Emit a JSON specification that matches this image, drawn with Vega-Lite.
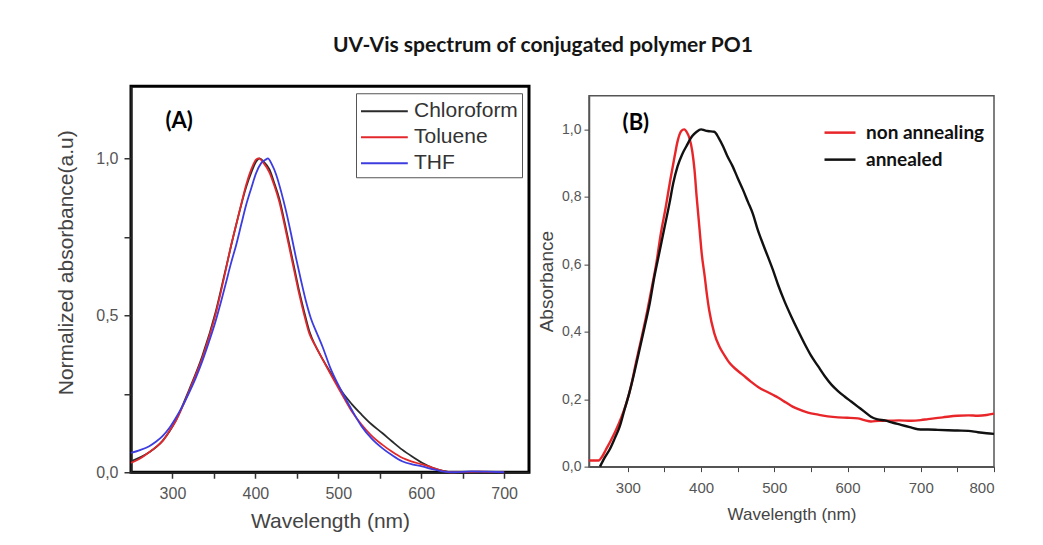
{
  "$schema": "https://vega.github.io/schema/vega-lite/v6.json",
  "background": "white",
  "padding": {"left": 54, "top": 34, "right": 30, "bottom": 10},
  "title": {"text": "UV-Vis spectrum of conjugated polymer PO1", "font": "Lato", "fontSize": 21, "fontWeight": "bold", "color": "#151515", "anchor": "middle", "offset": 29, "dx": 16},
  "spacing": 5,
  "center": true,
  "config": {
    "axis": {"grid": false, "labelFont": "Liberation Sans", "titleFont": "Liberation Sans", "titleFontWeight": "normal"},
    "legend": {"labelFont": "Liberation Sans"}
  },
  "datasets": {
    "A": [
      {"s": "Chloroform", "wl": 250, "v": 0.035}, {"s": "Chloroform", "wl": 271, "v": 0.062}, {"s": "Chloroform", "wl": 288, "v": 0.1}, {"s": "Chloroform", "wl": 304, "v": 0.165}, {"s": "Chloroform", "wl": 320, "v": 0.262}, {"s": "Chloroform", "wl": 336, "v": 0.37}, {"s": "Chloroform", "wl": 352, "v": 0.51}, {"s": "Chloroform", "wl": 364, "v": 0.645}, {"s": "Chloroform", "wl": 377, "v": 0.79}, {"s": "Chloroform", "wl": 389, "v": 0.91}, {"s": "Chloroform", "wl": 395, "v": 0.955}, {"s": "Chloroform", "wl": 401, "v": 0.99}, {"s": "Chloroform", "wl": 405, "v": 1.0}, {"s": "Chloroform", "wl": 410, "v": 0.99}, {"s": "Chloroform", "wl": 417, "v": 0.965}, {"s": "Chloroform", "wl": 423, "v": 0.92}, {"s": "Chloroform", "wl": 429, "v": 0.87}, {"s": "Chloroform", "wl": 435, "v": 0.8}, {"s": "Chloroform", "wl": 441, "v": 0.725}, {"s": "Chloroform", "wl": 447, "v": 0.65}, {"s": "Chloroform", "wl": 453, "v": 0.575}, {"s": "Chloroform", "wl": 459, "v": 0.51}, {"s": "Chloroform", "wl": 465, "v": 0.45}, {"s": "Chloroform", "wl": 472, "v": 0.405}, {"s": "Chloroform", "wl": 478, "v": 0.375}, {"s": "Chloroform", "wl": 490, "v": 0.32}, {"s": "Chloroform", "wl": 504, "v": 0.258}, {"s": "Chloroform", "wl": 516, "v": 0.218}, {"s": "Chloroform", "wl": 528, "v": 0.184}, {"s": "Chloroform", "wl": 540, "v": 0.153}, {"s": "Chloroform", "wl": 553, "v": 0.125}, {"s": "Chloroform", "wl": 565, "v": 0.098}, {"s": "Chloroform", "wl": 577, "v": 0.072}, {"s": "Chloroform", "wl": 589, "v": 0.05}, {"s": "Chloroform", "wl": 601, "v": 0.03}, {"s": "Chloroform", "wl": 613, "v": 0.015}, {"s": "Chloroform", "wl": 625, "v": 0.005}, {"s": "Chloroform", "wl": 640, "v": 0.0}, {"s": "Chloroform", "wl": 700, "v": 0.0},
      {"s": "Toluene", "wl": 250, "v": 0.03}, {"s": "Toluene", "wl": 260, "v": 0.042}, {"s": "Toluene", "wl": 271, "v": 0.062}, {"s": "Toluene", "wl": 280, "v": 0.08}, {"s": "Toluene", "wl": 288, "v": 0.099}, {"s": "Toluene", "wl": 296, "v": 0.13}, {"s": "Toluene", "wl": 304, "v": 0.163}, {"s": "Toluene", "wl": 312, "v": 0.208}, {"s": "Toluene", "wl": 320, "v": 0.258}, {"s": "Toluene", "wl": 328, "v": 0.31}, {"s": "Toluene", "wl": 336, "v": 0.364}, {"s": "Toluene", "wl": 344, "v": 0.43}, {"s": "Toluene", "wl": 352, "v": 0.503}, {"s": "Toluene", "wl": 358, "v": 0.57}, {"s": "Toluene", "wl": 364, "v": 0.641}, {"s": "Toluene", "wl": 370, "v": 0.715}, {"s": "Toluene", "wl": 377, "v": 0.79}, {"s": "Toluene", "wl": 383, "v": 0.855}, {"s": "Toluene", "wl": 389, "v": 0.917}, {"s": "Toluene", "wl": 395, "v": 0.965}, {"s": "Toluene", "wl": 401, "v": 0.997}, {"s": "Toluene", "wl": 404, "v": 1.0}, {"s": "Toluene", "wl": 410, "v": 0.985}, {"s": "Toluene", "wl": 417, "v": 0.955}, {"s": "Toluene", "wl": 423, "v": 0.912}, {"s": "Toluene", "wl": 429, "v": 0.86}, {"s": "Toluene", "wl": 435, "v": 0.79}, {"s": "Toluene", "wl": 441, "v": 0.715}, {"s": "Toluene", "wl": 447, "v": 0.64}, {"s": "Toluene", "wl": 453, "v": 0.566}, {"s": "Toluene", "wl": 459, "v": 0.5}, {"s": "Toluene", "wl": 465, "v": 0.442}, {"s": "Toluene", "wl": 472, "v": 0.405}, {"s": "Toluene", "wl": 478, "v": 0.375}, {"s": "Toluene", "wl": 490, "v": 0.316}, {"s": "Toluene", "wl": 504, "v": 0.25}, {"s": "Toluene", "wl": 516, "v": 0.195}, {"s": "Toluene", "wl": 528, "v": 0.152}, {"s": "Toluene", "wl": 540, "v": 0.117}, {"s": "Toluene", "wl": 553, "v": 0.088}, {"s": "Toluene", "wl": 565, "v": 0.065}, {"s": "Toluene", "wl": 577, "v": 0.046}, {"s": "Toluene", "wl": 589, "v": 0.034}, {"s": "Toluene", "wl": 601, "v": 0.025}, {"s": "Toluene", "wl": 613, "v": 0.015}, {"s": "Toluene", "wl": 625, "v": 0.005}, {"s": "Toluene", "wl": 635, "v": 0.0}, {"s": "Toluene", "wl": 670, "v": 0.002}, {"s": "Toluene", "wl": 700, "v": 0.0},
      {"s": "THF", "wl": 250, "v": 0.062}, {"s": "THF", "wl": 260, "v": 0.07}, {"s": "THF", "wl": 272, "v": 0.083}, {"s": "THF", "wl": 280, "v": 0.097}, {"s": "THF", "wl": 288, "v": 0.115}, {"s": "THF", "wl": 296, "v": 0.14}, {"s": "THF", "wl": 304, "v": 0.173}, {"s": "THF", "wl": 312, "v": 0.21}, {"s": "THF", "wl": 320, "v": 0.253}, {"s": "THF", "wl": 328, "v": 0.3}, {"s": "THF", "wl": 336, "v": 0.354}, {"s": "THF", "wl": 344, "v": 0.415}, {"s": "THF", "wl": 352, "v": 0.481}, {"s": "THF", "wl": 358, "v": 0.538}, {"s": "THF", "wl": 364, "v": 0.598}, {"s": "THF", "wl": 370, "v": 0.66}, {"s": "THF", "wl": 377, "v": 0.726}, {"s": "THF", "wl": 383, "v": 0.79}, {"s": "THF", "wl": 389, "v": 0.853}, {"s": "THF", "wl": 395, "v": 0.905}, {"s": "THF", "wl": 401, "v": 0.954}, {"s": "THF", "wl": 407, "v": 0.985}, {"s": "THF", "wl": 413, "v": 0.997}, {"s": "THF", "wl": 415, "v": 1.0}, {"s": "THF", "wl": 420, "v": 0.98}, {"s": "THF", "wl": 425, "v": 0.949}, {"s": "THF", "wl": 431, "v": 0.895}, {"s": "THF", "wl": 437, "v": 0.832}, {"s": "THF", "wl": 443, "v": 0.76}, {"s": "THF", "wl": 449, "v": 0.683}, {"s": "THF", "wl": 455, "v": 0.612}, {"s": "THF", "wl": 461, "v": 0.545}, {"s": "THF", "wl": 467, "v": 0.49}, {"s": "THF", "wl": 474, "v": 0.444}, {"s": "THF", "wl": 481, "v": 0.4}, {"s": "THF", "wl": 490, "v": 0.335}, {"s": "THF", "wl": 504, "v": 0.258}, {"s": "THF", "wl": 516, "v": 0.2}, {"s": "THF", "wl": 528, "v": 0.147}, {"s": "THF", "wl": 540, "v": 0.108}, {"s": "THF", "wl": 553, "v": 0.077}, {"s": "THF", "wl": 565, "v": 0.054}, {"s": "THF", "wl": 577, "v": 0.035}, {"s": "THF", "wl": 589, "v": 0.025}, {"s": "THF", "wl": 601, "v": 0.019}, {"s": "THF", "wl": 613, "v": 0.01}, {"s": "THF", "wl": 625, "v": 0.003}, {"s": "THF", "wl": 640, "v": 0.0}, {"s": "THF", "wl": 660, "v": 0.003}, {"s": "THF", "wl": 680, "v": 0.002}, {"s": "THF", "wl": 700, "v": 0.0}
    ],
    "B": [
      {"s": "non annealing", "wl": 247, "v": 0.018}, {"s": "non annealing", "wl": 260, "v": 0.018}, {"s": "non annealing", "wl": 265, "v": 0.03}, {"s": "non annealing", "wl": 270, "v": 0.05}, {"s": "non annealing", "wl": 277, "v": 0.078}, {"s": "non annealing", "wl": 284, "v": 0.109}, {"s": "non annealing", "wl": 291, "v": 0.145}, {"s": "non annealing", "wl": 298, "v": 0.188}, {"s": "non annealing", "wl": 305, "v": 0.245}, {"s": "non annealing", "wl": 311, "v": 0.307}, {"s": "non annealing", "wl": 318, "v": 0.375}, {"s": "non annealing", "wl": 325, "v": 0.445}, {"s": "non annealing", "wl": 332, "v": 0.523}, {"s": "non annealing", "wl": 339, "v": 0.604}, {"s": "non annealing", "wl": 345, "v": 0.69}, {"s": "non annealing", "wl": 352, "v": 0.772}, {"s": "non annealing", "wl": 358, "v": 0.85}, {"s": "non annealing", "wl": 364, "v": 0.921}, {"s": "non annealing", "wl": 368, "v": 0.965}, {"s": "non annealing", "wl": 373, "v": 0.995}, {"s": "non annealing", "wl": 377, "v": 1.0}, {"s": "non annealing", "wl": 381, "v": 0.99}, {"s": "non annealing", "wl": 384, "v": 0.975}, {"s": "non annealing", "wl": 388, "v": 0.935}, {"s": "non annealing", "wl": 391, "v": 0.881}, {"s": "non annealing", "wl": 394, "v": 0.8}, {"s": "non annealing", "wl": 398, "v": 0.703}, {"s": "non annealing", "wl": 401, "v": 0.63}, {"s": "non annealing", "wl": 405, "v": 0.564}, {"s": "non annealing", "wl": 408, "v": 0.51}, {"s": "non annealing", "wl": 411, "v": 0.465}, {"s": "non annealing", "wl": 418, "v": 0.396}, {"s": "non annealing", "wl": 425, "v": 0.356}, {"s": "non annealing", "wl": 432, "v": 0.33}, {"s": "non annealing", "wl": 439, "v": 0.307}, {"s": "non annealing", "wl": 448, "v": 0.288}, {"s": "non annealing", "wl": 457, "v": 0.272}, {"s": "non annealing", "wl": 468, "v": 0.252}, {"s": "non annealing", "wl": 480, "v": 0.233}, {"s": "non annealing", "wl": 490, "v": 0.222}, {"s": "non annealing", "wl": 498, "v": 0.213}, {"s": "non annealing", "wl": 505, "v": 0.205}, {"s": "non annealing", "wl": 516, "v": 0.19}, {"s": "non annealing", "wl": 525, "v": 0.178}, {"s": "non annealing", "wl": 532, "v": 0.171}, {"s": "non annealing", "wl": 546, "v": 0.16}, {"s": "non annealing", "wl": 560, "v": 0.154}, {"s": "non annealing", "wl": 573, "v": 0.149}, {"s": "non annealing", "wl": 587, "v": 0.146}, {"s": "non annealing", "wl": 600, "v": 0.145}, {"s": "non annealing", "wl": 614, "v": 0.143}, {"s": "non annealing", "wl": 623, "v": 0.138}, {"s": "non annealing", "wl": 632, "v": 0.134}, {"s": "non annealing", "wl": 643, "v": 0.136}, {"s": "non annealing", "wl": 655, "v": 0.136}, {"s": "non annealing", "wl": 670, "v": 0.137}, {"s": "non annealing", "wl": 687, "v": 0.136}, {"s": "non annealing", "wl": 700, "v": 0.138}, {"s": "non annealing", "wl": 710, "v": 0.141}, {"s": "non annealing", "wl": 730, "v": 0.146}, {"s": "non annealing", "wl": 750, "v": 0.151}, {"s": "non annealing", "wl": 765, "v": 0.152}, {"s": "non annealing", "wl": 778, "v": 0.151}, {"s": "non annealing", "wl": 790, "v": 0.153}, {"s": "non annealing", "wl": 800, "v": 0.157},
      {"s": "annealed", "wl": 262, "v": 0.0}, {"s": "annealed", "wl": 268, "v": 0.025}, {"s": "annealed", "wl": 275, "v": 0.05}, {"s": "annealed", "wl": 282, "v": 0.083}, {"s": "annealed", "wl": 289, "v": 0.119}, {"s": "annealed", "wl": 295, "v": 0.165}, {"s": "annealed", "wl": 302, "v": 0.218}, {"s": "annealed", "wl": 309, "v": 0.28}, {"s": "annealed", "wl": 316, "v": 0.347}, {"s": "annealed", "wl": 323, "v": 0.415}, {"s": "annealed", "wl": 330, "v": 0.485}, {"s": "annealed", "wl": 336, "v": 0.56}, {"s": "annealed", "wl": 343, "v": 0.634}, {"s": "annealed", "wl": 350, "v": 0.708}, {"s": "annealed", "wl": 357, "v": 0.782}, {"s": "annealed", "wl": 362, "v": 0.84}, {"s": "annealed", "wl": 368, "v": 0.891}, {"s": "annealed", "wl": 374, "v": 0.925}, {"s": "annealed", "wl": 380, "v": 0.95}, {"s": "annealed", "wl": 388, "v": 0.98}, {"s": "annealed", "wl": 394, "v": 0.993}, {"s": "annealed", "wl": 400, "v": 1.0}, {"s": "annealed", "wl": 405, "v": 0.997}, {"s": "annealed", "wl": 409, "v": 0.995}, {"s": "annealed", "wl": 418, "v": 0.993}, {"s": "annealed", "wl": 424, "v": 0.975}, {"s": "annealed", "wl": 430, "v": 0.95}, {"s": "annealed", "wl": 436, "v": 0.92}, {"s": "annealed", "wl": 443, "v": 0.891}, {"s": "annealed", "wl": 450, "v": 0.856}, {"s": "annealed", "wl": 457, "v": 0.822}, {"s": "annealed", "wl": 464, "v": 0.785}, {"s": "annealed", "wl": 471, "v": 0.748}, {"s": "annealed", "wl": 477, "v": 0.705}, {"s": "annealed", "wl": 484, "v": 0.663}, {"s": "annealed", "wl": 491, "v": 0.624}, {"s": "annealed", "wl": 498, "v": 0.584}, {"s": "annealed", "wl": 505, "v": 0.54}, {"s": "annealed", "wl": 514, "v": 0.49}, {"s": "annealed", "wl": 523, "v": 0.446}, {"s": "annealed", "wl": 532, "v": 0.405}, {"s": "annealed", "wl": 541, "v": 0.366}, {"s": "annealed", "wl": 550, "v": 0.33}, {"s": "annealed", "wl": 560, "v": 0.297}, {"s": "annealed", "wl": 569, "v": 0.268}, {"s": "annealed", "wl": 578, "v": 0.243}, {"s": "annealed", "wl": 587, "v": 0.224}, {"s": "annealed", "wl": 596, "v": 0.208}, {"s": "annealed", "wl": 605, "v": 0.193}, {"s": "annealed", "wl": 614, "v": 0.178}, {"s": "annealed", "wl": 623, "v": 0.163}, {"s": "annealed", "wl": 632, "v": 0.148}, {"s": "annealed", "wl": 641, "v": 0.14}, {"s": "annealed", "wl": 651, "v": 0.137}, {"s": "annealed", "wl": 662, "v": 0.13}, {"s": "annealed", "wl": 673, "v": 0.124}, {"s": "annealed", "wl": 685, "v": 0.117}, {"s": "annealed", "wl": 696, "v": 0.111}, {"s": "annealed", "wl": 710, "v": 0.11}, {"s": "annealed", "wl": 723, "v": 0.109}, {"s": "annealed", "wl": 737, "v": 0.108}, {"s": "annealed", "wl": 750, "v": 0.107}, {"s": "annealed", "wl": 765, "v": 0.106}, {"s": "annealed", "wl": 778, "v": 0.102}, {"s": "annealed", "wl": 790, "v": 0.099}, {"s": "annealed", "wl": 800, "v": 0.097}
    ]
  },
  "hconcat": [
    {
      "width": 398,
      "height": 386,
      "view": {"stroke": "#000000", "strokeWidth": 3},
      "layer": [
        {
          "data": {"name": "A"},
          "mark": {"type": "line", "strokeWidth": 1.8, "interpolate": "monotone"},
          "encoding": {
            "x": {"field": "wl", "type": "quantitative", "scale": {"domain": [250, 730], "nice": false, "zero": false},
              "axis": {"values": [300, 350, 400, 450, 500, 550, 600, 650, 700], "labelExpr": "datum.value % 100 == 0 ? datum.label : ''", "format": "d", "title": "Wavelength (nm)", "titleFontSize": 21, "titleColor": "#444444", "labelFontSize": 16, "labelColor": "#555555", "tickSize": 6, "tickColor": "#333333", "tickWidth": 1.5, "domainColor": "#222222", "domainWidth": 2, "labelPadding": 7, "titlePadding": 9}},
            "y": {"field": "v", "type": "quantitative", "scale": {"domain": [0, 1.23], "nice": false},
              "axis": {"values": [0, 0.25, 0.5, 0.75, 1], "labelExpr": "datum.value == 0 || datum.value == 0.5 || datum.value == 1 ? replace(format(datum.value, '.1f'), '.', ',') : ''", "title": "Normalized absorbance(a.u)", "titleFontSize": 21, "titleColor": "#444444", "titleY": 176, "labelFontSize": 16, "labelColor": "#555555", "tickSize": 7, "tickColor": "#333333", "tickWidth": 1.5, "domainColor": "#222222", "domainWidth": 2, "labelPadding": 6, "titlePadding": 19}},
            "color": {"field": "s", "type": "nominal", "scale": {"domain": ["Chloroform", "Toluene", "THF"], "range": ["#2a2a2a", "#e3282c", "#3c3ce0"]},
              "legend": {"orient": "top-right", "offset": 7, "title": null, "symbolType": "M-1,0H2.6", "symbolSize": 676, "symbolStrokeWidth": 1.8, "labelFontSize": 21, "labelColor": "#333333", "strokeColor": "#555555", "fillColor": "#ffffff", "padding": 4, "rowPadding": 2, "labelOffset": 26}}
          }
        },
        {
          "data": {"values": [{}]},
          "mark": {"type": "text", "text": "(A)", "font": "Lato", "fontSize": 22, "fontWeight": "bold", "color": "#000000", "align": "center", "baseline": "middle"},
          "encoding": {"x": {"datum": 308}, "y": {"datum": 1.118}}
        }
      ]
    },
    {
      "width": 405,
      "height": 371,
      "view": {"stroke": "#555555", "strokeWidth": 1.5},
      "layer": [
        {
          "data": {"name": "B"},
          "mark": {"type": "line", "strokeWidth": 2.4, "interpolate": "monotone"},
          "encoding": {
            "x": {"field": "wl", "type": "quantitative", "scale": {"domain": [247, 800], "nice": false, "zero": false},
              "axis": {"values": [300, 350, 400, 450, 500, 550, 600, 650, 700, 750, 800], "labelExpr": "datum.value % 100 == 0 ? datum.label : ''", "format": "d", "title": "Wavelength (nm)", "titleFontSize": 17, "titleColor": "#444444", "labelFontSize": 15, "labelColor": "#555555", "tickSize": 5, "tickColor": "#444444", "domainColor": "#555555", "domainWidth": 1.5, "labelPadding": 9, "titlePadding": 11}},
            "y": {"field": "v", "type": "quantitative", "scale": {"domain": [0, 1.1], "nice": false},
              "axis": {"values": [0, 0.1, 0.2, 0.3, 0.4, 0.5, 0.6, 0.7, 0.8, 0.9, 1.0], "labelExpr": "round(datum.value * 10) % 2 == 0 ? replace(format(datum.value, '.1f'), '.', ',') : ''", "title": "Absorbance", "titleFontSize": 19, "titleColor": "#444444", "labelFontSize": 14, "labelColor": "#555555", "tickSize": 5, "tickColor": "#444444", "domainColor": "#555555", "domainWidth": 1.5, "labelPadding": 3, "titlePadding": 5}},
            "color": {"field": "s", "type": "nominal", "scale": {"domain": ["non annealing", "annealed"], "range": ["#e8262a", "#111111"]},
              "legend": {"orient": "none", "legendX": 234, "legendY": 20, "title": null, "symbolType": "stroke", "symbolSize": 961, "symbolStrokeWidth": 2.5, "labelFont": "Lato", "labelFontSize": 19, "labelFontWeight": "bold", "labelColor": "#111111", "rowPadding": -6, "labelOffset": 9}}
          }
        },
        {
          "data": {"values": [{}]},
          "mark": {"type": "text", "text": "(B)", "font": "Lato", "fontSize": 22, "fontWeight": "bold", "color": "#000000", "align": "center", "baseline": "middle"},
          "encoding": {"x": {"datum": 311}, "y": {"datum": 1.02}}
        }
      ]
    }
  ],
  "resolve": {"scale": {"color": "independent", "x": "independent", "y": "independent"}, "legend": {"color": "independent"}}
}
